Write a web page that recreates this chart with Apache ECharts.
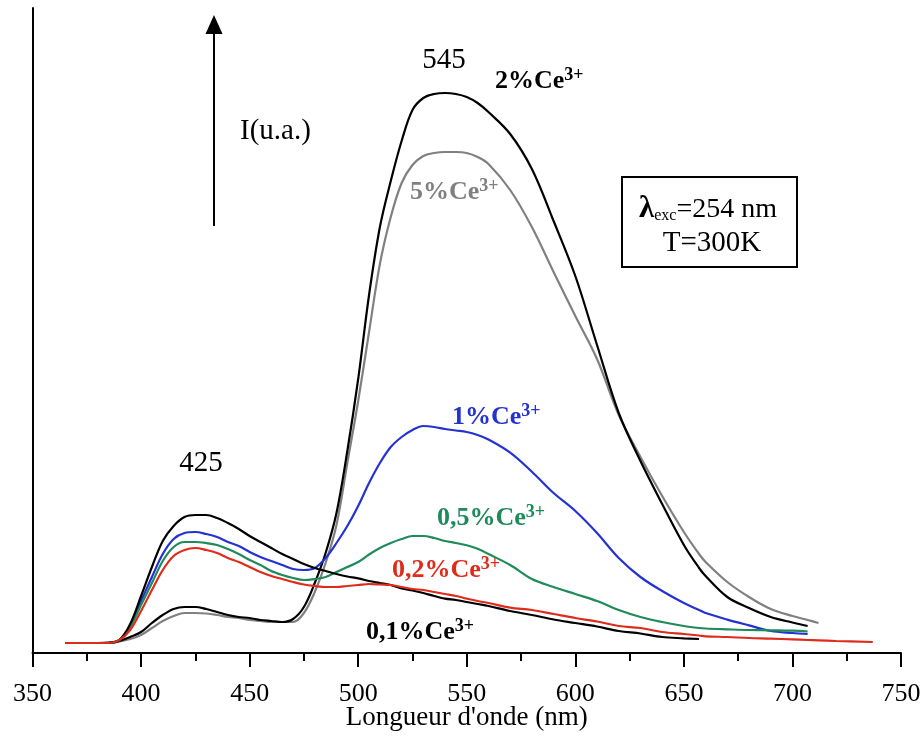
<!DOCTYPE html>
<html><head><meta charset="utf-8">
<script src="https://cdn.jsdelivr.net/npm/echarts@6/dist/echarts.min.js"></script>
<style>html,body{margin:0;padding:0;background:#fff}#c{width:920px;height:736px}</style>
</head><body><div id="c"></div>
<script>
// wavelength grid (nm)
const wl = [365,370,375,380,385,390,395,400,405,410,415,420,425,430,435,440,445,450,455,460,465,470,475,480,485,490,495,500,505,510,515,520,525,530,535,540,545,550,555,560,570,580,590,600,610,620,630,640,650,657,660,670,680,690,700,707,712,720,737];
const xTicks = [350,400,450,500,550,600,650,700,750];
// intensities (arbitrary units)
const ce2  = [10,10,10,10,10,12,16,21,30,38,44,46,46,44,41,38,36,35,33,32,31,34,46,70,100,140,202,274,358,426,472,512,543,555,559,560,559,556,550,541,519,484,432,377,308,240,192,149,108,85,77,56,45,36,30.5,27,null,null,null];
const ce5  = [10,10,10,10,10,11.5,14,18,25,32,37,40,40,39.5,38,36,35,33,32,31,31,31,40,61,90,128,190,252,321,389,436,470,488,497,500,501,501,500,496,489,463,426,381,337,294,238,196,157,121,99,91,71,56,44,37,33,30,null,null];
const ce1  = [10,10,10,10,10,13,27,52,76,99,114,120,121,119,116,111,107,101,96,92,88,84,83,85,95,110,127,147,170,190,206,216,223,227,226,224,222.5,221,218,213.5,200.4,181.3,160,142,120,95,76,62,50,43,40,33.4,27.6,22,20,19,null,null,null];
const ce05 = [10,10,10,10,10,13,26,48,70,92,106,111,111,110,108,104,99,93,88,82,78,75,73,74,76,81,86,91,98.5,105,110,114,117,117,115,112,110,107.7,104.2,99,88,74,66,59,52,43,36,31,27,25,24.5,23.7,23,22.7,22.3,21.5,null,null,null];
const ce02 = [10,10,10,10,10,13,23,42,63,83,97,103,105,103,100,95,91,86,81,77,74,71,68.5,67,66,66,67,68,69,68.5,68,66,64,63,61,59,57,54.4,52,50,45.4,43,39,35,31.5,27,25,21,19,17.5,16.7,16,15,14.4,13.6,13,12.7,12,11];
const ce01 = [10,10,10,10,10.5,13,29,57,86,112,127,136,138,138,135,130,124,117,111,105,99,94,89,85,82,79,76.5,74.7,72,70,68,64.5,62.5,60,57,54.3,53,51,49,47,42,38,33.5,30,26.5,22,19.5,16,14.7,14,null,null,null,null,null,null,null,null,null];

const F = '"Liberation Serif", "DejaVu Serif", serif';
function mk(name, arr, color){
  return {name, type:'line', smooth:0.35, showSymbol:false, symbol:'none',
    lineStyle:{color, width:2.2}, itemStyle:{color},
    data: wl.map((x,i)=>[x, arr[i]])};
}
function lab(x, y, main, color){
  return {type:'text', x, y, z:100, style:{
    text:'{b|'+main+'}{s|3+}', verticalAlign:'middle',
    rich:{ b:{font:'bold 26px '+F, fill:color, verticalAlign:'bottom', lineHeight:28},
           s:{font:'bold 18px '+F, fill:color, verticalAlign:'top', lineHeight:28} }
  }};
}
const chart = echarts.init(document.getElementById('c'));
chart.setOption({
  animation:false,
  backgroundColor:'#fff',
  grid:{left:32.5, right:19, top:8, bottom:83, outerBoundsMode:'none', containLabel:false},
  xAxis:{type:'value', min:350, max:750, interval:50,
    name:"Longueur d'onde (nm)", nameLocation:'middle', nameGap:51, nameMoveOverlap:false,
    nameTextStyle:{fontFamily:F, fontSize:27, color:'#000'},
    axisLine:{lineStyle:{color:'#000', width:2}},
    axisTick:{length:14, lineStyle:{color:'#000', width:2}},
    minorTick:{show:true, splitNumber:2, length:8, lineStyle:{color:'#000', width:2}},
    axisLabel:{fontFamily:F, fontSize:26, color:'#000', margin:28,
      customValues: xTicks},
    splitLine:{show:false}},
  yAxis:{type:'value', min:0, max:645,
    axisLine:{show:true, lineStyle:{color:'#000', width:2}},
    axisTick:{show:false}, axisLabel:{show:false}, splitLine:{show:false}},
  series:[
    mk('5%', ce5, '#808080'),
    mk('2%', ce2, '#000000'),
    mk('1%', ce1, '#2433d0'),
    mk('0,5%', ce05, '#1f8a5a'),
    mk('0,1%', ce01, '#000000'),
    mk('0,2%', ce02, '#de2c1c')
  ],
  graphic:[
    {type:'line', shape:{x1:214, y1:226, x2:214, y2:30}, style:{stroke:'#000', lineWidth:2}},
    {type:'polygon', shape:{points:[[205.5,34],[222.5,34],[214,15]]}, style:{fill:'#000'}},
    {type:'text', x:240, y:131, style:{text:'I(u.a.)', font:'29px '+F, fill:'#000', verticalAlign:'middle'}},
    {type:'text', x:444, y:60, style:{text:'545', font:'29px '+F, fill:'#000', align:'center', verticalAlign:'middle'}},
    {type:'text', x:201, y:463, style:{text:'425', font:'29px '+F, fill:'#000', align:'center', verticalAlign:'middle'}},
    lab(495, 80, '2%Ce', '#000'),
    lab(410, 191, '5%Ce', '#808080'),
    lab(452, 416, '1%Ce', '#2433d0'),
    lab(437, 517, '0,5%Ce', '#1f8a5a'),
    lab(392, 569, '0,2%Ce', '#de2c1c'),
    lab(366, 631, '0,1%Ce', '#000'),
    {type:'rect', shape:{x:622, y:177, width:175, height:90}, style:{fill:'#fff', stroke:'#000', lineWidth:2}, z:90},
    {type:'text', x:708, y:208, z:100, style:{text:'{l|λ}{sub|exc}{n|=254 nm}', align:'center', verticalAlign:'middle',
      rich:{ l:{font:'bold 31px '+F, fill:'#000', verticalAlign:'bottom', lineHeight:32},
             sub:{font:'16px '+F, fill:'#000', verticalAlign:'bottom', lineHeight:24},
             n:{font:'28px '+F, fill:'#000', verticalAlign:'bottom', lineHeight:32} }}},
    {type:'text', x:712, y:243, z:100, style:{text:'T=300K', font:'29px '+F, fill:'#000', align:'center', verticalAlign:'middle'}}
  ]
});
</script></body></html>
